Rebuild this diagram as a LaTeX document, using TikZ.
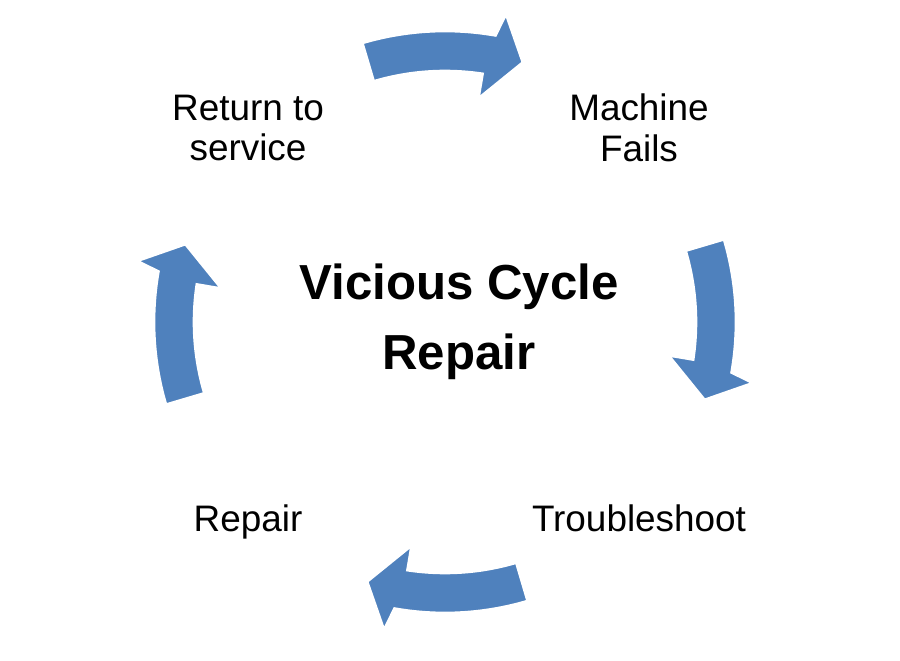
\documentclass[tikz,border=0pt]{standalone}
\usepackage{fontspec}
\setmainfont{Liberation Sans}
\usepackage{tikz}
\usetikzlibrary{positioning}
\definecolor{cycleblue}{RGB}{79, 129, 189}

\begin{document}
\begin{tikzpicture}[
    x=0.02cm, y=0.02cm,
    cyc/.style={fill=cycleblue, draw=white, line width=1.5pt, line join=miter},
    step label/.style={font=\fontsize{21}{23}\selectfont, align=center, text=black},
    centre label/.style={font=\fontsize{28}{40}\selectfont\bfseries, align=center, text=black}
]
\useasboundingbox (0,0) rectangle (900,660);
\fill[white] (0,0) rectangle (900,660);

% Curved arrows around the cycle
\begin{scope}[shift={(445,338)}]
\foreach \a in {90,0,-90,180}{
  \filldraw[cyc] (\a+16.5:291)
    -- plot[domain=\a+16.5:\a-10, samples=30] (\x:291)
    -- (\a-11.2:314) -- (\a-16.7:271) -- (\a-8.5:226) -- (\a-8.6:251)
    -- plot[domain=\a-8.6:\a+16.5, samples=30] (\x:251)
    -- cycle;
}
\end{scope}

% Step labels
\node[step label] (ret) at (248,532) {Return to\\service};
\node[step label] (fails) at (639,532) {Machine\\Fails};
\node[step label, anchor=base] (trouble) at (639,129) {Troubleshoot};
\node[step label, anchor=base] (repair) at (248,129) {Repair};

% Centre label
\node[centre label] (title) at (459,338) {Vicious Cycle\\Repair};

\end{tikzpicture}
\end{document}
